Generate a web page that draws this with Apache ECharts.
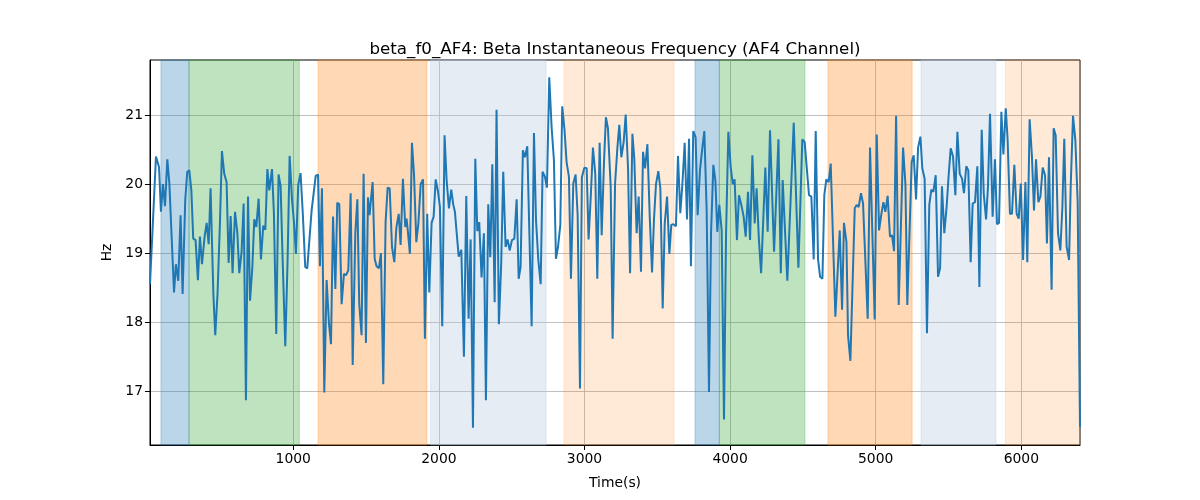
<!DOCTYPE html>
<html>
<head>
<meta charset="utf-8">
<script src="https://cdn.jsdelivr.net/npm/echarts@6/dist/echarts.min.js"></script>
<style>html,body{margin:0;padding:0;background:#fff}#chart{width:1200px;height:500px}</style>
</head>
<body>
<div id="chart"></div>
<script>
// [time (s), beta instantaneous frequency (Hz)]
const seg1 = [[16,18.55],[57,20.40],[78,20.25],[91,19.60],[105,20.00],[119,19.68],[135,20.36],[149,20.01],[181,18.43],[194,18.84],[210,18.60],[226,19.55],[240,18.41],[258,19.77],[272,20.18],[286,20.20],[300,19.91],[313,19.21],[329,19.19],[345,18.61],[359,19.24],[373,18.84],[391,19.24],[405,19.44],[419,19.13],[432,19.94],[451,18.42],[464,17.81],[480,18.42],[497,19.48],[510,20.48],[526,20.15],[542,20.03],[556,18.86],[570,19.54],[583,18.71],[600,19.60],[616,19.29],[629,18.71],[645,19.02],[659,19.72],[675,16.87],[689,19.82],[703,18.31],[719,18.80],[732,19.49],[746,19.38],[762,19.79],[778,18.91],[794,19.40],[808,19.34],[822,20.22],[835,19.91],[854,20.22],[867,19.57],[883,17.83],[899,20.14],[913,19.97],[927,18.90],[945,17.65],[961,18.90],[975,20.41],[991,19.79],[1005,19.44],[1018,18.99],[1034,19.99],[1050,20.16],[1066,19.55],[1082,18.80],[1096,18.78]];
const seg2 = [[1126,19.62],[1138,19.60],[1154,20.12],[1170,20.14],[1183,18.81],[1197,19.94],[1213,16.98],[1229,18.61],[1245,17.98],[1259,17.68],[1273,19.53],[1289,18.48],[1302,19.73],[1316,19.71],[1332,18.26],[1348,18.70],[1362,18.68],[1378,18.75],[1394,19.87],[1408,17.38],[1426,19.29],[1440,19.78],[1453,18.27],[1469,17.81],[1483,20.15],[1499,17.70],[1513,19.81],[1524,19.55],[1531,19.72],[1545,20.03],[1559,18.92],[1572,18.81],[1588,18.78],[1602,19.00],[1618,17.10],[1634,19.45],[1648,19.95],[1662,19.94],[1678,19.09],[1694,18.87],[1708,19.37],[1724,19.57],[1737,19.12],[1753,20.08],[1769,19.38],[1778,19.50],[1785,19.36],[1801,18.99],[1815,20.60],[1829,20.15],[1845,19.16],[1859,19.43],[1875,20.00],[1891,20.07],[1904,17.76],[1920,19.57],[1934,18.43],[1950,19.44],[1964,19.53],[1978,20.07],[1994,19.89],[2007,19.67],[2023,17.94],[2039,20.71],[2053,20.06],[2069,19.65],[2085,19.92],[2099,19.70],[2110,19.60],[2122,19.62],[2136,18.95]];
const seg3 = [[2154,19.05],[2172,17.50],[2188,19.83],[2204,18.05],[2218,19.20],[2234,16.47],[2250,20.37],[2264,19.32],[2277,19.45],[2293,18.65],[2309,19.29],[2323,16.87],[2339,19.71],[2353,18.94],[2367,20.29],[2383,18.29],[2396,21.08],[2412,17.97],[2428,18.85],[2442,20.18],[2458,19.09],[2472,19.20],[2486,19.04],[2502,19.19],[2518,19.21],[2534,19.78],[2548,18.63],[2561,18.80],[2577,20.49],[2591,20.39],[2607,20.55],[2637,17.94],[2653,20.74],[2667,19.48],[2683,18.90],[2699,18.55],[2712,20.18],[2728,20.11],[2742,19.95],[2758,21.55],[2774,20.83],[2790,20.35],[2804,18.92],[2818,19.09],[2834,19.41],[2847,21.13],[2863,20.78],[2877,20.32],[2893,20.11],[2907,18.63],[2923,20.01],[2939,20.14],[2953,19.55],[2969,17.04],[2982,20.10],[2999,20.24],[3015,20.23],[3028,19.20],[3044,19.86],[3058,20.53],[3074,20.15],[3088,18.63],[3104,20.60],[3118,19.26],[3134,20.32],[3147,20.97],[3161,20.81]];
const seg4 = [[3180,19.96],[3193,17.76],[3210,20.01],[3226,20.53],[3239,20.86],[3253,20.39],[3269,20.61],[3283,21.01],[3299,20.23],[3313,18.71],[3329,20.73],[3342,20.37],[3358,19.29],[3372,19.82],[3388,18.73],[3402,20.47],[3416,20.23],[3432,20.58],[3448,19.53],[3464,18.72],[3477,19.48],[3491,20.00],[3507,20.19],[3521,19.94],[3537,18.20],[3551,19.43],[3567,19.82],[3583,18.99],[3596,19.41],[3610,19.42],[3628,19.39],[3642,20.41],[3658,19.58],[3672,19.99],[3688,20.60],[3704,19.49],[3718,20.66],[3731,18.81],[3747,20.77],[3763,20.68],[3777,19.55],[3793,20.20],[3809,20.52],[3823,20.77],[3839,19.62],[3855,16.99],[3869,19.29],[3885,20.28],[3899,20.05],[3912,19.31],[3926,19.70],[3942,19.33],[3958,16.59],[3972,19.26],[3988,20.76],[4004,20.25],[4018,20.00],[4031,20.07],[4047,19.19],[4061,19.84],[4077,19.70],[4093,19.53],[4107,19.24],[4123,19.89],[4137,19.19],[4153,20.42],[4169,19.43],[4182,19.94],[4198,19.19]];
const seg5 = [[4213,18.71],[4242,20.24],[4258,19.31],[4274,20.78],[4302,19.02],[4332,20.65],[4348,18.71],[4361,20.06],[4393,18.60],[4437,20.89],[4469,18.79],[4496,20.65],[4512,20.61],[4542,19.84],[4558,19.82],[4574,18.91],[4588,20.77],[4604,18.91],[4618,18.66],[4634,18.63],[4647,19.84],[4661,20.07],[4677,20.03],[4691,20.30],[4723,18.08],[4753,19.33],[4769,18.18],[4782,19.44],[4799,19.16],[4810,17.81],[4826,17.44],[4856,19.65],[4869,19.70],[4883,19.67],[4899,19.87],[4913,19.72],[4945,18.05],[4961,20.53],[4993,18.04],[5007,20.72],[5023,19.33],[5039,19.57],[5053,19.74],[5066,19.60],[5082,19.83],[5098,19.24],[5112,19.26],[5126,19.03],[5140,20.99],[5158,18.25],[5188,20.53],[5204,20.00],[5217,18.25]];
const seg6 = [[5247,20.32],[5261,20.42],[5277,19.78],[5291,20.53],[5307,20.69],[5320,20.23],[5336,20.08],[5352,17.84],[5368,19.70],[5382,19.92],[5396,19.89],[5412,20.13],[5428,18.66],[5442,18.78],[5455,19.97],[5471,19.29],[5487,19.67],[5501,20.13],[5515,20.52],[5531,20.40],[5547,19.84],[5561,20.76],[5577,20.15],[5593,20.08],[5606,19.87],[5622,20.26],[5636,20.20],[5652,18.87],[5666,19.72],[5682,19.74],[5698,20.26],[5712,18.51],[5728,20.79],[5742,19.86],[5758,19.49],[5771,19.96],[5785,21.02],[5803,19.53],[5819,20.36],[5833,19.42],[5847,19.44],[5863,21.05],[5877,20.43],[5893,21.10],[5906,20.64],[5922,19.57],[5936,19.57],[5952,20.28],[5968,19.57],[5982,19.50],[5996,20.01],[6012,18.90],[6028,20.03],[6041,18.87],[6057,20.94],[6073,20.40],[6087,19.62],[6101,20.36],[6117,19.74],[6131,19.82],[6147,20.24],[6163,20.13],[6176,19.14],[6190,20.39],[6208,18.47],[6222,20.81],[6236,20.71],[6252,19.29],[6268,19.04],[6282,19.67],[6295,20.66],[6311,19.10],[6328,18.90],[6339,19.96],[6355,20.99],[6371,20.64],[6387,19.74],[6403,16.48]];

// shaded intervals: [start, end, kind]
const spanStarts = [91, 284, 1170, 1943, 2859, 3759, 3926, 4672, 5311, 5890];
const spanEnds   = [284, 1041, 1918, 2736, 3615, 3926, 4514, 5250, 5826, 6403];
const spanKinds  = ['blue','green','orange','lightblue','lightorange','blue','green','orange','lightblue','lightorange'];

const xTicks = [1000, 2000, 3000, 4000, 5000, 6000];
const yTicks = [17, 18, 19, 20, 21];
const X_MIN = 16, X_MAX = 6403, Y_MIN = 16.22, Y_MAX = 21.80;

const kindColor = {
  blue: 'rgba(31,119,180,0.3)',
  green: 'rgba(44,160,44,0.3)',
  orange: 'rgba(255,127,14,0.3)',
  lightblue: 'rgba(176,196,222,0.33)',
  lightorange: 'rgba(255,127,14,0.16)'
};

const lineData = [].concat(seg1, seg2, seg3, seg4, seg5, seg6);
const areas = spanStarts.map((s, i) => [
  { xAxis: s, itemStyle: { color: kindColor[spanKinds[i]], borderColor: kindColor[spanKinds[i]], borderWidth: 1 } },
  { xAxis: spanEnds[i] }
]);

const FONT = 'DejaVu Sans';
const chart = echarts.init(document.getElementById('chart'), null, { renderer: 'canvas' });
chart.setOption({
  animation: false,
  backgroundColor: '#ffffff',
  title: {
    text: 'beta_f0_AF4: Beta Instantaneous Frequency (AF4 Channel)',
    left: 610, top: 36, textAlign: 'center',
    textStyle: { fontFamily: FONT, fontSize: 16.7, fontWeight: 'normal', color: '#000' }
  },
  grid: { left: 150, right: 120, top: 60, bottom: 55, show: true, borderColor: '#000', borderWidth: 1, backgroundColor: 'transparent' },
  xAxis: {
    type: 'value', min: X_MIN, max: X_MAX,
    name: 'Time(s)', nameLocation: 'middle', nameGap: 31,
    nameTextStyle: { fontFamily: FONT, fontSize: 13.9, color: '#000' },
    axisLine: { show: true, lineStyle: { color: '#000', width: 1 } },
    axisTick: { show: true, inside: false, length: 5, customValues: xTicks, lineStyle: { color: '#000' } },
    axisLabel: { customValues: xTicks, formatter: v => String(v), fontFamily: FONT, fontSize: 13.9, color: '#000', margin: 7 },
    splitLine: { show: true, lineStyle: { color: '#b0b0b0', width: 0.8 } }
  },
  yAxis: {
    type: 'value', min: Y_MIN, max: Y_MAX,
    name: 'Hz', nameLocation: 'middle', nameGap: 36,
    nameTextStyle: { fontFamily: FONT, fontSize: 13.9, color: '#000' },
    axisLine: { show: true, lineStyle: { color: '#000', width: 1 } },
    axisTick: { show: true, inside: false, length: 5, customValues: yTicks, lineStyle: { color: '#000' } },
    axisLabel: { customValues: yTicks, formatter: v => String(v), fontFamily: FONT, fontSize: 13.9, color: '#000', margin: 7 },
    splitLine: { show: true, lineStyle: { color: '#b0b0b0', width: 0.8 } }
  },
  series: [
    {
      type: 'line', data: [], z: 1, silent: true,
      markArea: { silent: true, data: areas }
    },
    {
      type: 'line', data: lineData, z: 3, showSymbol: false, symbol: 'none',
      lineStyle: { color: '#1f77b4', width: 2 }, itemStyle: { color: '#1f77b4' }
    }
  ]
});
</script>
</body>
</html>
